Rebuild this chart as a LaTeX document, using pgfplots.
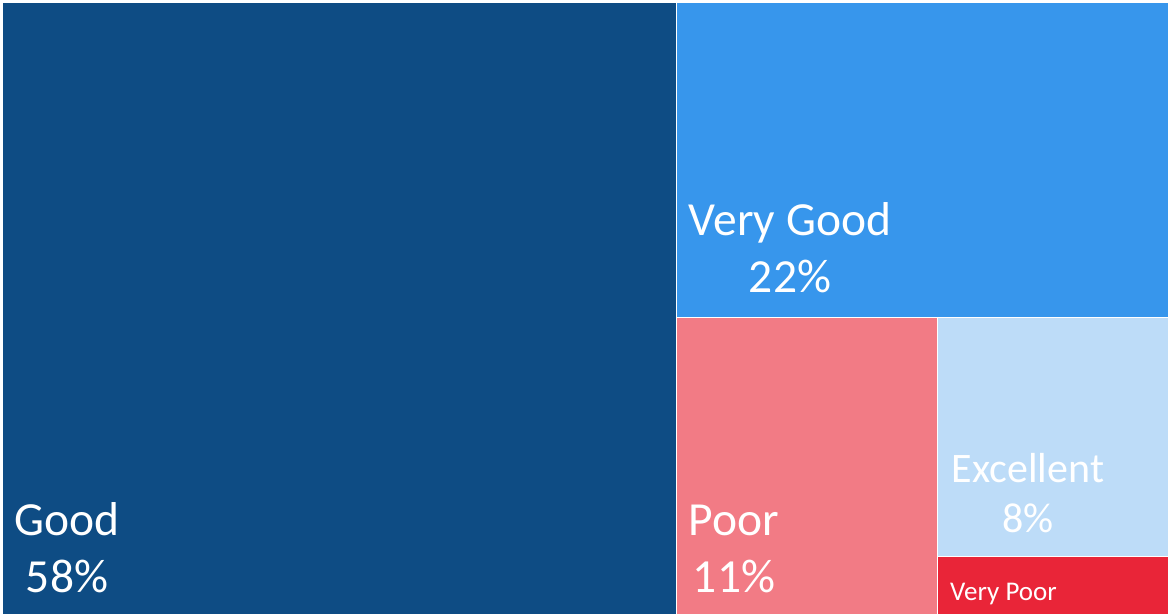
\documentclass[border=0pt]{standalone}
\usepackage{pgfplots}
\pgfplotsset{compat=1.18}
\usepackage{fontspec}
\setmainfont{Carlito}
\definecolor{cGood}{RGB}{14,76,132}
\definecolor{cVGood}{RGB}{55,150,236}
\definecolor{cPoor}{RGB}{242,123,133}
\definecolor{cExc}{RGB}{189,220,248}
\definecolor{cVPoor}{RGB}{233,37,56}
\begin{document}
\begin{tikzpicture}
\begin{axis}[
  scale only axis, width=1168pt, height=616pt,
  xmin=0, xmax=1168, ymin=0, ymax=616, y dir=reverse,
  hide axis, clip=false,
]
\path (rel axis cs:0,0) rectangle (rel axis cs:1,1);
% Good 58%
\addplot[fill=cGood, draw=none] coordinates {(3,3) (676,3) (676,614) (3,614)} -- cycle;
% Very Good 22%
\addplot[fill=cVGood, draw=none] coordinates {(677,3) (1168,3) (1168,317) (677,317)} -- cycle;
% Poor 11%
\addplot[fill=cPoor, draw=none] coordinates {(677,318) (937,318) (937,614) (677,614)} -- cycle;
% Excellent 8%
\addplot[fill=cExc, draw=none] coordinates {(938,318) (1168,318) (1168,556) (938,556)} -- cycle;
% Very Poor 1%
\addplot[fill=cVPoor, draw=none] coordinates {(938,557) (1168,557) (1168,614) (938,614)} -- cycle;

\begin{scope}[every node/.style={text=white, anchor=base, inner sep=0pt}]
\node[font=\fontsize{47.5}{56}\selectfont] at (axis cs:67,535) {Good};
\node[font=\fontsize{47.5}{56}\selectfont] at (axis cs:67,592) {58\%};
\node[font=\fontsize{47.5}{56}\selectfont] at (axis cs:790,235) {Very Good};
\node[font=\fontsize{47.5}{56}\selectfont] at (axis cs:790,292) {22\%};
\node[font=\fontsize{47.5}{56}\selectfont] at (axis cs:734,535) {Poor};
\node[font=\fontsize{47.5}{56}\selectfont] at (axis cs:734,592) {11\%};
\node[font=\fontsize{42}{50}\selectfont] at (axis cs:1028,482) {Excellent};
\node[font=\fontsize{42}{50}\selectfont] at (axis cs:1028,532) {8\%};
\node[font=\fontsize{27}{32}\selectfont, anchor=base west] at (axis cs:950,600) {Very Poor};
\end{scope}
\end{axis}
\end{tikzpicture}
\end{document}
